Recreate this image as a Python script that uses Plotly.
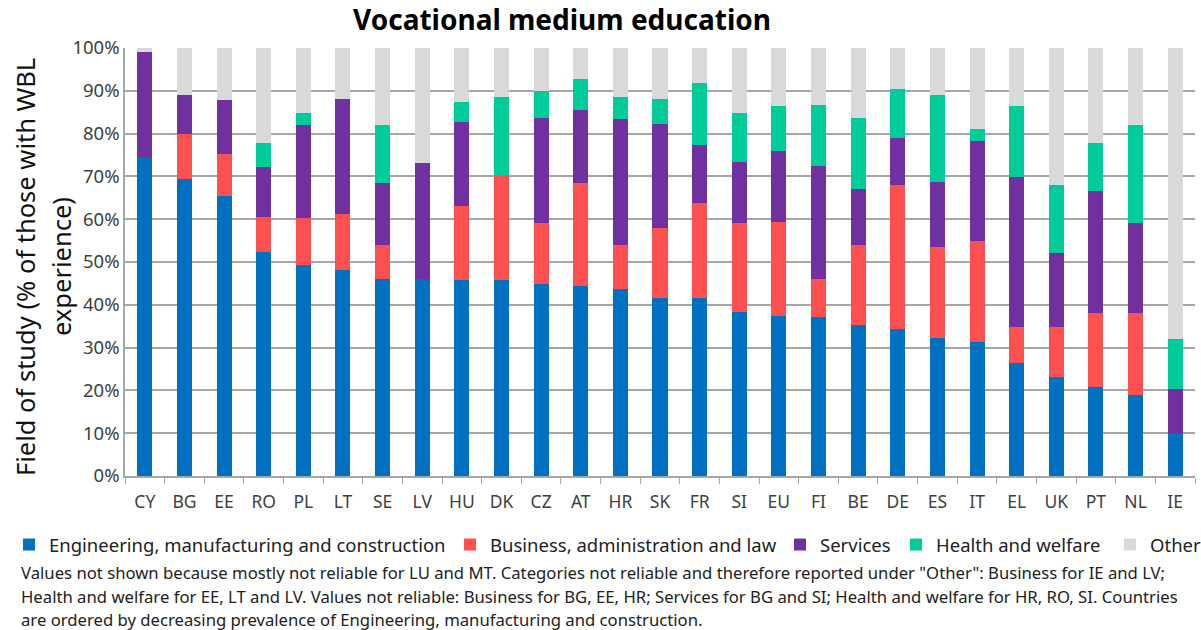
import plotly.graph_objects as go

countries = ["CY", "BG", "EE", "RO", "PL", "LT", "SE", "LV", "HU", "DK", "CZ", "AT", "HR", "SK",
             "FR", "SI", "EU", "FI", "BE", "DE", "ES", "IT", "EL", "UK", "PT", "NL", "IE"]

engineering = [74.5, 69.4, 65.5, 52.4, 49.3, 48.1, 46.0, 46.0, 45.7, 45.7, 44.8, 44.5, 43.8, 41.7,
               41.7, 38.3, 37.5, 37.1, 35.3, 34.4, 32.3, 31.3, 26.5, 23.2, 20.7, 18.9, 10.0]
business = [0.0, 10.4, 9.7, 8.1, 11.0, 13.1, 7.9, 0.0, 17.3, 24.6, 14.2, 24.0, 10.1, 16.2,
            22.1, 20.7, 21.9, 8.9, 18.6, 33.6, 21.3, 23.5, 8.2, 11.7, 17.3, 19.1, 0.0]
services = [24.6, 9.3, 12.7, 11.7, 21.8, 27.0, 14.6, 27.1, 19.7, 0.0, 24.6, 17.0, 29.5, 24.4,
            13.5, 14.3, 16.5, 26.4, 13.2, 10.9, 15.1, 23.5, 35.2, 17.2, 28.6, 21.2, 10.4]
health = [0.0, 0.0, 0.0, 5.7, 2.7, 0.0, 13.4, 0.0, 4.6, 18.2, 6.4, 7.3, 5.1, 5.7,
          14.6, 11.5, 10.5, 14.3, 16.6, 11.5, 20.4, 2.7, 16.5, 15.9, 11.1, 22.8, 11.5]
other = [0.9, 10.9, 12.1, 22.1, 15.2, 11.8, 18.1, 26.9, 12.7, 11.5, 10.0, 7.2, 11.5, 12.0,
         8.1, 15.2, 13.6, 13.3, 16.3, 9.6, 10.9, 19.0, 13.6, 32.0, 22.3, 18.0, 68.1]

series_names = ["Engineering, manufacturing and construction", "Business, administration and law",
                "Services", "Health and welfare", "Other"]
series_values = [engineering, business, services, health, other]
series_colors = ["#0070C0", "#FF5050", "#7030A0", "#00CC99", "#D9D9D9"]

y_ticks = [0, 10, 20, 30, 40, 50, 60, 70, 80, 90, 100]
y_tick_labels = [f"{v}%" for v in y_ticks]

y_title_lines = ["Field of study (% of those with WBL", "experience)"]

footnotes = [
    'Values not shown because mostly not reliable for LU and MT. Categories not reliable and therefore reported under "Other": Business for IE and LV;',
    'Health and welfare for EE, LT and LV. Values not reliable: Business for BG, EE, HR; Services for BG and SI; Health and welfare for HR, RO, SI. Countries',
    'are ordered by decreasing prevalence of Engineering, manufacturing and construction.',
]

FONT = "Noto Sans"
W, H = 1201, 630
L, R, T, B = 125, 1195, 48, 476
PW, PH = R - L, B - T


def px_x(x):
    return (x - L) / PW


def px_y(y):
    return (B - y) / PH


# left pixel where each legend entry's text begins in the reference
legend_text_x = [50, 491, 821, 937, 1151]
legend_keys = ["legend", "legend2", "legend3", "legend4", "legend5"]

fig = go.Figure()
for name, vals, col, lk in zip(series_names, series_values, series_colors, legend_keys):
    fig.add_trace(go.Bar(x=countries, y=vals, name=name, legend=lk,
                         marker=dict(color=col, line=dict(width=0)),
                         hoverinfo="x+y+name"))

legend_layout = {}
for lk, tx in zip(legend_keys, legend_text_x):
    legend_layout[lk] = dict(orientation="h", xref="container", yref="container",
                             x=(tx - 41) / W, xanchor="left", y=1 - 545 / H, yanchor="middle",
                             font=dict(size=18.5, color="#222222", family=FONT),
                             itemwidth=30, itemclick=False, bgcolor="rgba(0,0,0,0)")

fig.update_layout(
    barmode="stack",
    bargap=0.62,
    width=W, height=H,
    margin=dict(l=L, r=W - R, t=T, b=H - B, autoexpand=False),
    paper_bgcolor="white", plot_bgcolor="white",
    font=dict(family=FONT, color="#222222"),
    title=dict(text="<b>Vocational medium education</b>", x=562 / W, xanchor="center",
               y=1 - 20 / H, yanchor="middle", font=dict(size=28, color="black", family=FONT)),
    showlegend=True,
    **legend_layout,
)

fig.update_yaxes(range=[0, 100], tickvals=y_ticks, ticktext=y_tick_labels,
                 showgrid=True, gridcolor="#A6A6A6", gridwidth=1.5,
                 showline=True, linecolor="#A6A6A6", linewidth=1.5,
                 ticks="", tickfont=dict(size=18.5, color="#404040"),
                 automargin=False, zeroline=False)
fig.update_xaxes(showline=True, linecolor="#A6A6A6", linewidth=1.5,
                 ticks="outside", tickson="boundaries", ticklen=6, tickcolor="#A6A6A6",
                 tickfont=dict(size=17.5, color="#404040"), ticklabelstandoff=9,
                 showgrid=False, automargin=False)

for line, cx in zip(y_title_lines, [25, 61]):
    fig.add_annotation(text=line, xref="paper", yref="paper", x=px_x(cx), y=px_y(267),
                       xanchor="center", yanchor="middle", textangle=-90, showarrow=False,
                       font=dict(size=25.5, color="#111111", family=FONT))

for line, cy in zip(footnotes, [572, 596, 619]):
    fig.add_annotation(text=line, xref="paper", yref="paper",
                       x=px_x(19), y=px_y(cy),
                       xanchor="left", yanchor="middle", showarrow=False, align="left",
                       font=dict(size=16.7, color="#222222", family=FONT))

fig.write_html("out.html", config={"displayModeBar": False},
               post_script="document.body.style.margin='0px';")
